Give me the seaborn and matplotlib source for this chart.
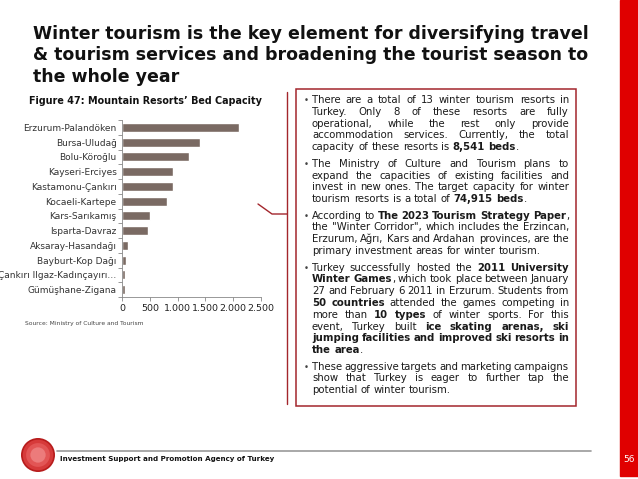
import matplotlib
matplotlib.use('Agg')
import matplotlib.pyplot as plt
import matplotlib.patches as mpatches
from matplotlib.lines import Line2D
import numpy as np
import seaborn as sns

# ---- data ----
resorts = ['Erzurum-Palandöken', 'Bursa-Uludağ', 'Bolu-Köroğlu', 'Kayseri-Erciyes',
           'Kastamonu-Çankırı', 'Kocaeli-Kartepe', 'Kars-Sarıkamış', 'Isparta-Davraz',
           'Aksaray-Hasandağı', 'Bayburt-Kop Dağı', 'Çankırı Ilgaz-Kadınçayırı…',
           'Gümüşhane-Zigana']
beds = [2100, 1400, 1200, 920, 915, 800, 500, 470, 100, 65, 40, 40]
xticks = [0, 500, 1000, 1500, 2000, 2500]
xtick_labels = ['0', '500', '1.000', '1.500', '2.000', '2.500']

title_lines = ['Winter tourism is the key element for diversifying travel',
               '& tourism services and broadening the tourist season to',
               'the whole year']
chart_title = 'Figure 47: Mountain Resorts’ Bed Capacity'
source = 'Source: Ministry of Culture and Tourism'
footer = 'Investment Support and Promotion Agency of Turkey'
page_no = '56'

# words between * are bold
bullets = [
    ['There are a total of 13 winter tourism resorts in',
     'Turkey. Only 8 of these resorts are fully',
     'operational, while the rest only provide',
     'accommodation services. Currently, the total',
     'capacity of these resorts is *8,541* *beds*.'],
    ['The Ministry of Culture and Tourism plans to',
     'expand the capacities of existing facilities and',
     'invest in new ones. The target capacity for winter',
     'tourism resorts is a total of *74,915* *beds*.'],
    ['According to *The* *2023* *Tourism* *Strategy* *Paper*,',
     'the "Winter Corridor", which includes the Erzincan,',
     'Erzurum, Ağrı, Kars and Ardahan provinces, are the',
     'primary investment areas for winter tourism.'],
    ['Turkey successfully hosted the *2011* *University*',
     '*Winter* *Games*, which took place between January',
     '27 and February 6 2011 in Erzurum. Students from',
     '*50* *countries* attended the games competing in',
     'more than *10* *types* of winter sports. For this',
     'event, Turkey built *ice* *skating* *arenas,* *ski*',
     '*jumping* *facilities* *and* *improved* *ski* *resorts* *in*',
     '*the* *area*.'],
    ['These aggressive targets and marketing campaigns',
     'show that Turkey is eager to further tap the',
     'potential of winter tourism.'],
]

W, H = 638, 479


def fx(px):
    return px / W


def fy(py):
    return 1 - py / H


sns.set_style('white')
plt.rcParams['font.family'] = ['DejaVu Sans']

fig = plt.figure(figsize=(6.38, 4.79), dpi=100)
renderer = fig.canvas.get_renderer()

# red strip on the right
fig.patches.append(mpatches.Rectangle((fx(620), fy(476)), fx(18), 476 / H,
                                      transform=fig.transFigure, color='#e00000', zorder=0))
fig.text(fx(629), fy(459), page_no, color='white', fontsize=6.5, ha='center', va='center')

# slide title
for i, line in enumerate(title_lines):
    fig.text(fx(33), fy(39 + i * 21.5), line, fontsize=12.5, fontweight='bold',
             color='#111111', ha='left', va='baseline')

# ---- chart ----
fig.text(fx(145), fy(101), chart_title, fontsize=6.9, fontweight='bold',
         ha='center', va='center', color='#111111')

ax = fig.add_axes([fx(122.3), fy(297), (260.7 - 122.3) / W, 177 / H])
sns.barplot(x=beds, y=resorts, orient='h', color='#7a6a63', saturation=1,
            width=0.6, ax=ax)
ax.set_xlim(0, 2500)
ax.set_xticks(xticks)
ax.set_xticklabels(xtick_labels)
ax.set_xlabel('')
ax.set_ylabel('')
ax.set_yticks(np.arange(-0.5, len(resorts), 1), minor=True)
ax.tick_params(axis='y', which='major', length=0, pad=4, labelsize=6.5, labelcolor='#333333')
ax.tick_params(axis='y', which='minor', length=3, width=0.6, color='#888888', left=True)
ax.tick_params(axis='x', length=3, width=0.6, color='#888888', bottom=True,
               labelsize=6.8, labelcolor='#222222', pad=2)
for s in ['top', 'right']:
    ax.spines[s].set_visible(False)
for s in ['left', 'bottom']:
    ax.spines[s].set_color('#888888')
    ax.spines[s].set_linewidth(0.6)

fig.text(fx(25), fy(323), source, fontsize=4.3, color='#444444', ha='left', va='center')

# connector to the text box
conn_color = '#a3262c'
fig.add_artist(Line2D([fx(258), fx(272), fx(287)], [fy(204), fy(214), fy(214)],
                      transform=fig.transFigure, color=conn_color, lw=1.0))
fig.add_artist(Line2D([fx(287), fx(287)], [fy(92), fy(404)],
                      transform=fig.transFigure, color=conn_color, lw=1.0))
fig.patches.append(mpatches.Rectangle((fx(296), fy(406)), fx(280), 317 / H,
                                      transform=fig.transFigure, fill=False,
                                      edgecolor=conn_color, lw=1.1))

# ---- justified bullet text ----
BODY = 7.3
TEXT_L, TEXT_R = 312, 569
space_px = 0.33 * BODY * 100 / 72


def draw_line(line, y, justify):
    words = []
    for w in line.split(' '):
        parts = w.split('*')
        segs = [(p, i % 2 == 1) for i, p in enumerate(parts) if p]
        objs, total = [], 0
        for txt, bold in segs:
            t = fig.text(0, fy(y), txt, fontsize=BODY, color='#1a1a1a',
                         fontweight='bold' if bold else 'normal', ha='left', va='baseline')
            wpx = t.get_window_extent(renderer).width
            objs.append((t, wpx))
            total += wpx
        words.append((objs, total))
    if justify and len(words) > 1:
        gap = (TEXT_R - TEXT_L - sum(w for _, w in words)) / (len(words) - 1)
    else:
        gap = space_px
    x = TEXT_L
    for objs, total in words:
        xx = x
        for t, wpx in objs:
            t.set_x(fx(xx))
            xx += wpx
        x += total + gap


y = 103
for para in bullets:
    fig.text(fx(306), fy(y), '•', fontsize=BODY - 1, color='#444444', ha='center', va='baseline')
    for j, line in enumerate(para):
        draw_line(line, y, j < len(para) - 1)
        y += 11.8
    y += 16.5 - 11.8

# ---- footer ----
fig.add_artist(Line2D([fx(57), fx(591)], [fy(451), fy(451)], transform=fig.transFigure,
                      color='#999999', lw=1.2))
fig.text(fx(60), fy(459), footer, fontsize=5.1, fontweight='bold', color='#111111',
         ha='left', va='center')

logo = fig.add_axes([fx(21), fy(472), 34 / W, 34 / H])
logo.set_xlim(-1, 1)
logo.set_ylim(-1, 1)
logo.axis('off')
for r, c in [(1.0, '#b71c1c'), (0.9, '#d63a3a'), (0.7, '#e25555'), (0.45, '#ec7b7b')]:
    logo.add_patch(mpatches.Circle((0, 0), r, color=c, lw=0))

fig.savefig('out.png', dpi=100)
